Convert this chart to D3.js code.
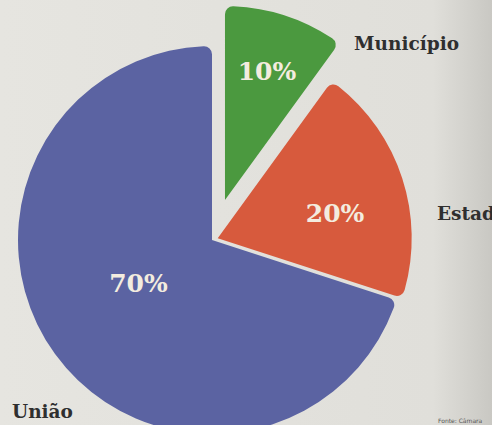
<!DOCTYPE html>
<html>
<head>
<meta charset="utf-8">
<script src="https://cdn.jsdelivr.net/npm/d3@7"></script>
<style>
  html, body { margin: 0; padding: 0; background: #e3e2dd; }
  svg { display: block; }
</style>
</head>
<body>
<svg id="chart" width="492" height="425"></svg>
<script>
// data
const categories = ['Município', 'Estado', 'União'];
const values = [10, 20, 70];
const valueLabels = ['10%', '20%', '70%'];
const sourceText = 'Fonte: Câmara';

// look
const colors = { 'Município': '#4b993f', 'Estado': '#d75a3d', 'União': '#5b63a2' };
const explode = { 'Município': 42, 'Estado': 6, 'União': 0 };
// label placement: radius and small angle shift (degrees) from slice middle
const labelPos = {
  'Município': { r: 136, shift: 0 },
  'Estado': { r: 120, shift: 6 },
  'União': { r: 85, shift: 6 }
};
const outerLabels = {
  'Município': { x: 354, y: 50 },
  'Estado': { x: 437, y: 220 },
  'União': { x: 12, y: 418 }
};

const width = 492, height = 425;
const cx = 212, cy = 240, radius = 194;
const serif = '"DejaVu Serif", "Liberation Serif", serif';

const svg = d3.select('#chart');

// paper background with a darker strip at the right edge
const defs = svg.append('defs');
const grad = defs.append('linearGradient').attr('id', 'paper')
  .attr('x1', '0%').attr('x2', '100%').attr('y1', '0%').attr('y2', '0%');
grad.append('stop').attr('offset', '0%').attr('stop-color', '#e6e5e0');
grad.append('stop').attr('offset', '88%').attr('stop-color', '#e0dfda');
grad.append('stop').attr('offset', '100%').attr('stop-color', '#c9c8c3');
svg.append('rect').attr('width', width).attr('height', height).attr('fill', 'url(#paper)');

const pie = d3.pie().sort(null).startAngle(0).endAngle(2 * Math.PI);
const arcs = pie(values).map((d, i) => ({ ...d, name: categories[i], label: valueLabels[i] }));

const arc = d3.arc().innerRadius(0).outerRadius(radius).cornerRadius(8);

const g = svg.append('g').attr('transform', `translate(${cx},${cy})`);

const slice = g.selectAll('g.slice')
  .data(arcs)
  .join('g')
  .attr('class', 'slice')
  .attr('transform', d => {
    const mid = (d.startAngle + d.endAngle) / 2;
    const off = explode[d.name];
    return `translate(${Math.sin(mid) * off},${-Math.cos(mid) * off})`;
  });

slice.append('path')
  .attr('d', arc)
  .attr('fill', d => colors[d.name]);

const labelAngle = d => (d.startAngle + d.endAngle) / 2 + labelPos[d.name].shift * Math.PI / 180;

// percentage labels inside slices
slice.append('text')
  .attr('x', d => Math.sin(labelAngle(d)) * labelPos[d.name].r)
  .attr('y', d => -Math.cos(labelAngle(d)) * labelPos[d.name].r)
  .attr('dy', '0.36em')
  .attr('text-anchor', 'middle')
  .attr('fill', '#f3ecdf')
  .attr('font-family', serif)
  .attr('font-weight', 'bold')
  .attr('font-size', '25px')
  .text(d => d.label);

// category names outside
svg.selectAll('text.cat')
  .data(categories)
  .join('text')
  .attr('class', 'cat')
  .attr('x', d => outerLabels[d].x)
  .attr('y', d => outerLabels[d].y)
  .attr('fill', '#2f2f2f')
  .attr('font-family', serif)
  .attr('font-weight', 'bold')
  .attr('font-size', '18.5px')
  .text(d => d);

svg.append('text')
  .attr('x', 438)
  .attr('y', 423)
  .attr('fill', '#555')
  .attr('font-family', '"DejaVu Sans", sans-serif')
  .attr('font-size', '6px')
  .text(sourceText);
</script>
</body>
</html>
